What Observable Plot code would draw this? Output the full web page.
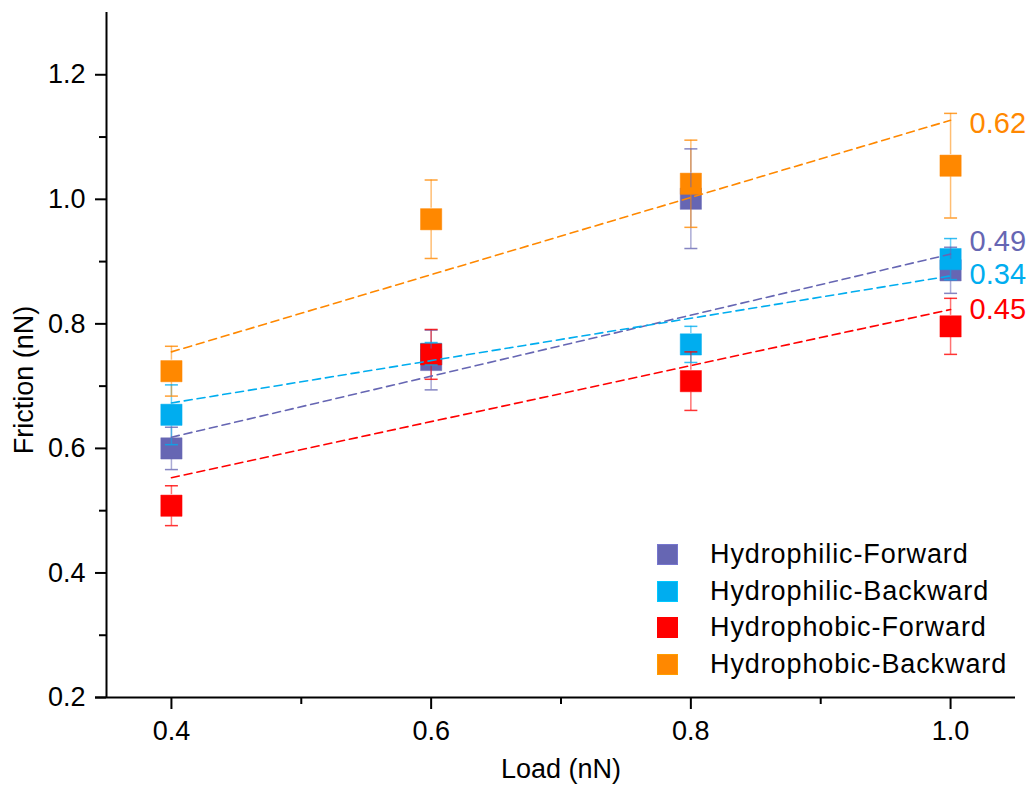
<!DOCTYPE html>
<html>
<head>
<meta charset="utf-8">
<script src="https://cdn.jsdelivr.net/npm/d3@7"></script>
<script src="https://cdn.jsdelivr.net/npm/@observablehq/plot@0.6"></script>
<style>
  body { margin: 0; background: #fff; }
  #wrap { position: relative; width: 1036px; height: 797px; font-family: "Liberation Sans", Arial, sans-serif; }
  #legend { position: absolute; left: 657px; top: 536px; }
  .row { display: flex; align-items: center; height: 36.7px; }
  .sw { width: 21px; height: 21px; box-sizing: border-box; border: 1px solid; }
  .lb { margin-left: 32px; font-size: 27px; letter-spacing: 0.9px; color: #000; white-space: nowrap; }
</style>
</head>
<body>
<div id="wrap"><div id="legend"></div></div>
<script>
// Normal load (nN)
const loads = [0.4, 0.6, 0.8, 1.0];

const seriesNames = ["Hydrophilic-Forward", "Hydrophilic-Backward", "Hydrophobic-Forward", "Hydrophobic-Backward"];
const seriesColors = ["#6666B3", "#00ADEF", "#FF0000", "#FF8800"];

// Mean friction (nN) and error for each series
const hydrophilicForward = [0.600, 0.742, 1.001, 0.886];
const hydrophilicForwardErr = [0.034, 0.048, 0.080, 0.037];
const hydrophilicBackward = [0.654, 0.752, 0.767, 0.904];
const hydrophilicBackwardErr = [0.048, 0.018, 0.029, 0.033];
const hydrophobicForward = [0.508, 0.751, 0.708, 0.796];
const hydrophobicForwardErr = [0.032, 0.040, 0.047, 0.045];
const hydrophobicBackward = [0.724, 0.968, 1.025, 1.054];
const hydrophobicBackwardErr = [0.040, 0.063, 0.070, 0.084];

// Linear fits: friction coefficient (slope) and fitted value at the first load
const fitSlopes = [0.49, 0.34, 0.45, 0.62];
const fitStart = [0.618, 0.673, 0.553, 0.755];

const yMajor = [0.2, 0.4, 0.6, 0.8, 1.0, 1.2];
const yMinor = [0.3, 0.5, 0.7, 0.9, 1.1];
const xMajor = [0.4, 0.6, 0.8, 1.0];
const xMinor = [0.5, 0.7, 0.9];

const means = [hydrophilicForward, hydrophilicBackward, hydrophobicForward, hydrophobicBackward];
const errs = [hydrophilicForwardErr, hydrophilicBackwardErr, hydrophobicForwardErr, hydrophobicBackwardErr];

const points = seriesNames.flatMap((s, i) => loads.map((x, j) => ({
  series: s, x, y: means[i][j], lo: means[i][j] - errs[i][j], hi: means[i][j] + errs[i][j]
})));

const x0 = loads[0], x1 = loads[loads.length - 1];
const fits = seriesNames.flatMap((s, i) => [
  {series: s, x: x0, y: fitStart[i]},
  {series: s, x: x1, y: fitStart[i] + fitSlopes[i] * (x1 - x0)}
]);
const fitEnds = seriesNames.map((s, i) => ({
  series: s, x: x1, y: fitStart[i] + fitSlopes[i] * (x1 - x0), label: fitSlopes[i].toFixed(2), i
}));
const labelShift = [-12, -1, 0, 3];

const colorScale = {domain: seriesNames, range: seriesColors};

// Horizontal cap for error bars
const capSymbol = {draw(ctx) { ctx.moveTo(-6.5, 0); ctx.lineTo(6.5, 0); }};

const marks = [
  // axis lines
  Plot.ruleX([0.35], {strokeWidth: 2}),
  Plot.ruleY([0.2], {strokeWidth: 2, insetLeft: -11}),
  Plot.axisY({ticks: yMajor, tickSize: 11, tickPadding: 10, tickFormat: d3.format(".1f"), fontSize: 27, strokeWidth: 2, label: null}),
  Plot.axisY({ticks: yMinor, tickSize: 7, tickFormat: () => "", strokeWidth: 2, label: null}),
  Plot.axisX({ticks: xMajor, tickSize: 12, tickPadding: 11, tickFormat: d3.format(".1f"), fontSize: 27, strokeWidth: 2, label: null}),
  Plot.axisX({ticks: xMinor, tickSize: 7, tickFormat: () => "", strokeWidth: 2, label: null}),
  // square markers
  Plot.dot(points, {x: "x", y: "y", symbol: "square", r: 12, fill: "series", stroke: "series", strokeOpacity: 0.45, strokeWidth: 1}),
  // error bars, with a gap around the marker
  Plot.ruleX(points, {x: "x", y1: "hi", y2: "y", stroke: "series", strokeOpacity: 0.55, strokeWidth: 1.5, insetBottom: 11}),
  Plot.ruleX(points, {x: "x", y1: "y", y2: "lo", stroke: "series", strokeOpacity: 0.55, strokeWidth: 1.5, insetTop: 11}),
  Plot.dot(points, {x: "x", y: "hi", symbol: capSymbol, r: 6, stroke: "series", strokeWidth: 1.5, strokeOpacity: 0.8}),
  Plot.dot(points, {x: "x", y: "lo", symbol: capSymbol, r: 6, stroke: "series", strokeWidth: 1.5, strokeOpacity: 0.8}),
  // linear fits
  Plot.line(fits, {x: "x", y: "y", z: "series", stroke: "series", strokeWidth: 1.6, strokeDasharray: "8,5"}),
  // slope labels
  ...fitEnds.map(d => Plot.text([d], {x: "x", y: "y", text: "label", fill: seriesColors[d.i], fontSize: 29, textAnchor: "start", dx: 19, dy: labelShift[d.i]})),
  // x-axis title
  Plot.text(["Load (nN)"], {frameAnchor: "bottom", text: d => d, fontSize: 27, dy: 80})
];

const chart = Plot.plot({
  width: 1036,
  height: 797,
  marginLeft: 106,
  marginRight: 21,
  marginTop: 12,
  marginBottom: 100,
  style: {fontFamily: "'Liberation Sans', Arial, sans-serif", color: "#000", background: "#fff", overflow: "visible"},
  x: {domain: [0.35, 1.05]},
  y: {domain: [0.2, 1.3]},
  color: colorScale,
  marks
});
document.getElementById("wrap").prepend(chart);

// y-axis title, rotated along the left edge
d3.select(chart).append("text")
  .attr("transform", "translate(33,380) rotate(-90)")
  .attr("text-anchor", "middle")
  .attr("font-size", 27)
  .attr("fill", "#000")
  .text("Friction (nN)");

// legend inside the plot area
const legend = d3.select("#legend");
seriesNames.forEach((s, i) => {
  const row = legend.append("div").attr("class", "row");
  row.append("div").attr("class", "sw").style("background", seriesColors[i]).style("border-color", d3.color(seriesColors[i]).brighter(0.4).formatHex());
  row.append("div").attr("class", "lb").text(s);
});
</script>
</body>
</html>
